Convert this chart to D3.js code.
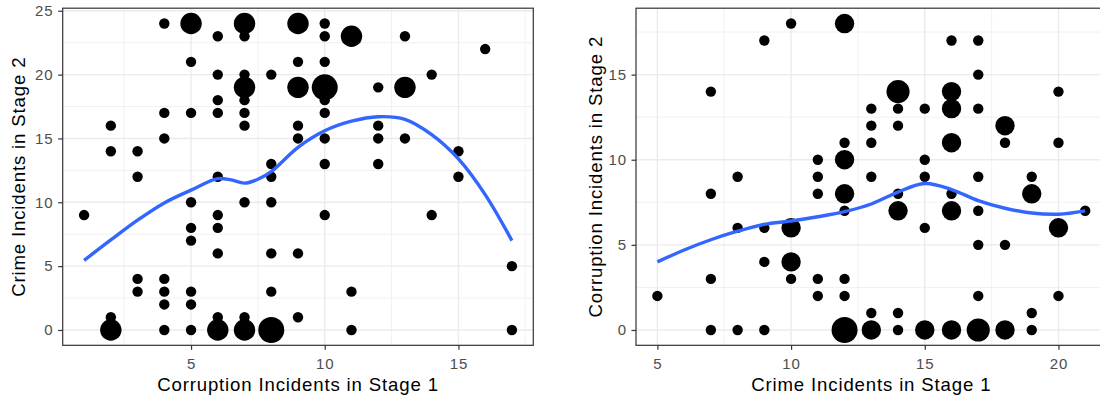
<!DOCTYPE html>
<html>
<head>
<meta charset="utf-8">
<script src="https://cdn.jsdelivr.net/npm/d3@7"></script>
<style>
  html, body { margin: 0; padding: 0; background: #ffffff; }
  svg { display: block; }
</style>
</head>
<body>
<svg id="chart" width="1100" height="396"></svg>
<script>
// ---- Panel A: corruption in stage 1 vs crime in stage 2 ----
// each entry: [x value, y value, number of observations at that spot]
const pointsA = [
  [1,9,1],
  [2,16,1],[2,14,1],[2,1,1],[2,0,2],
  [3,14,1],[3,12,1],[3,4,1],[3,3,1],
  [4,24,1],[4,17,1],[4,15,1],[4,4,1],[4,3,1],[4,2,1],[4,0,1],
  [5,24,2],[5,21,1],[5,17,1],[5,10,1],[5,8,1],[5,7,1],[5,3,1],[5,2,1],[5,0,1],
  [6,23,1],[6,20,1],[6,18,1],[6,17,1],[6,12,1],[6,9,1],[6,8,1],[6,6,1],[6,1,1],[6,0,2],
  [7,24,2],[7,23,1],[7,20,1],[7,19,2],[7,18,1],[7,17,1],[7,16,1],[7,10,1],[7,1,1],[7,0,2],
  [8,20,1],[8,13,1],[8,12,1],[8,10,1],[8,6,1],[8,3,1],[8,0,3],
  [9,24,2],[9,21,1],[9,19,2],[9,16,1],[9,15,1],[9,6,1],[9,1,1],
  [10,24,1],[10,23,1],[10,21,1],[10,19,3],[10,18,1],[10,17,1],[10,15,1],[10,13,1],[10,9,1],
  [11,23,2],[11,3,1],[11,0,1],
  [12,19,1],[12,16,1],[12,15,1],[12,13,1],
  [13,23,1],[13,19,2],[13,15,1],
  [14,20,1],[14,9,1],
  [15,14,1],[15,12,1],
  [16,22,1],
  [17,5,1],[17,0,1]
];
const smoothAX = [1, 2, 3, 4, 5, 6, 6.5, 7, 7.5, 8, 9, 10, 11, 12, 13, 14, 15, 16, 17];
const smoothAY = [5.45, 7.05, 8.6, 9.95, 10.95, 11.85, 11.75, 11.5, 11.8, 12.4, 14.3, 15.6, 16.35, 16.7, 16.5, 15.3, 13.4, 10.6, 7.0];
const ticksAX = [5, 10, 15];
const ticksAY = [0, 5, 10, 15, 20, 25];
const titleAX = "Corruption Incidents in Stage 1";
const titleAY = "Crime Incidents in Stage 2";

// ---- Panel B: crime in stage 1 vs corruption in stage 2 ----
const pointsB = [
  [5,2,1],
  [7,14,1],[7,8,1],[7,3,1],[7,0,1],
  [8,9,1],[8,6,1],[8,0,1],
  [9,17,1],[9,6,1],[9,4,1],[9,0,1],
  [10,18,1],[10,6,2],[10,4,2],[10,3,1],
  [11,10,1],[11,9,1],[11,8,1],[11,3,1],[11,2,1],
  [12,18,2],[12,11,1],[12,10,2],[12,8,2],[12,7,1],[12,3,1],[12,2,1],[12,0,4],
  [13,13,1],[13,12,1],[13,11,1],[13,9,1],[13,1,1],[13,0,2],
  [14,14,3],[14,13,1],[14,12,1],[14,8,1],[14,7,2],[14,1,1],[14,0,1],
  [15,13,1],[15,10,1],[15,9,1],[15,6,1],[15,0,2],
  [16,17,1],[16,14,2],[16,13,2],[16,11,2],[16,8,1],[16,7,2],[16,0,2],
  [17,17,1],[17,15,1],[17,13,1],[17,9,1],[17,7,1],[17,5,1],[17,2,1],[17,0,3],
  [18,12,2],[18,11,1],[18,5,1],[18,0,2],
  [19,9,1],[19,8,2],[19,1,1],[19,0,1],
  [20,14,1],[20,11,1],[20,6,2],[20,2,1],
  [21,7,1]
];
const smoothBX = [5, 6, 7, 8, 9, 10, 11, 12, 13, 14, 15, 16, 17, 18, 19, 20, 21];
const smoothBY = [4.0, 4.7, 5.3, 5.8, 6.2, 6.4, 6.65, 6.95, 7.4, 8.1, 8.6, 8.25, 7.6, 7.15, 6.87, 6.8, 7.0];
const ticksBX = [5, 10, 15, 20];
const ticksBY = [0, 5, 10, 15];
const titleBX = "Crime Incidents in Stage 1";
const titleBY = "Corruption Incidents in Stage 2";

// ---- drawing ----
const svg = d3.select("#chart");
const FONT = "'Liberation Sans', Arial, Helvetica, sans-serif";
const INK = "#333333";

// 5% padding on each side of the data range
function expand(ext) {
  const pad = (ext[1] - ext[0]) * 0.05;
  return [ext[0] - pad, ext[1] + pad];
}
// midpoints between major breaks (extended one step each way), kept inside the domain
function minorBreaks(ticks, domain) {
  const step = ticks[1] - ticks[0];
  const ext = [ticks[0] - step, ...ticks, ticks[ticks.length - 1] + step];
  const out = [];
  for (let i = 0; i < ext.length - 1; i++) {
    const m = (ext[i] + ext[i + 1]) / 2;
    if (m >= domain[0] && m <= domain[1]) out.push(m);
  }
  return out;
}

function drawPanel(cfg) {
  const box = cfg.box;
  const x = d3.scaleLinear()
    .domain(expand(d3.extent(cfg.points, d => d[0])))
    .range([box.left, box.right]);
  const y = d3.scaleLinear()
    .domain(expand(d3.extent(cfg.points, d => d[1])))
    .range([box.bottom, box.top]);
  const nMax = d3.max(cfg.points, d => d[2]);
  const share = d3.scaleLinear().domain([1, nMax]).range([0, 1]);
  const radius = d3.scaleSqrt().domain([0, 1]).range([5.2, 13]);

  const g = svg.append("g");

  // panel background
  g.append("rect")
    .attr("x", box.left).attr("y", box.top)
    .attr("width", box.right - box.left).attr("height", box.bottom - box.top)
    .attr("fill", "#ffffff");

  const grid = g.append("g").attr("stroke", "#EBEBEB").attr("fill", "none");
  // minor grid
  grid.selectAll("line.mx").data(minorBreaks(cfg.xTicks, x.domain())).join("line")
    .attr("class", "mx")
    .attr("x1", d => x(d)).attr("x2", d => x(d))
    .attr("y1", box.top).attr("y2", box.bottom)
    .attr("stroke-width", 0.7);
  grid.selectAll("line.my").data(minorBreaks(cfg.yTicks, y.domain())).join("line")
    .attr("class", "my")
    .attr("y1", d => y(d)).attr("y2", d => y(d))
    .attr("x1", box.left).attr("x2", box.right)
    .attr("stroke-width", 0.7);
  // major grid
  grid.selectAll("line.Mx").data(cfg.xTicks).join("line")
    .attr("class", "Mx")
    .attr("x1", d => x(d)).attr("x2", d => x(d))
    .attr("y1", box.top).attr("y2", box.bottom)
    .attr("stroke-width", 1.4);
  grid.selectAll("line.My").data(cfg.yTicks).join("line")
    .attr("class", "My")
    .attr("y1", d => y(d)).attr("y2", d => y(d))
    .attr("x1", box.left).attr("x2", box.right)
    .attr("stroke-width", 1.4);

  // counted points
  g.append("g").selectAll("circle").data(cfg.points).join("circle")
    .attr("cx", d => x(d[0]))
    .attr("cy", d => y(d[1]))
    .attr("r", d => radius(share(d[2])))
    .attr("fill", "#000000");

  // smoothed trend
  const line = d3.line()
    .x(i => x(cfg.smoothX[i]))
    .y(i => y(cfg.smoothY[i]))
    .curve(d3.curveCatmullRom.alpha(0.5));
  g.append("path")
    .attr("d", line(d3.range(cfg.smoothX.length)))
    .attr("fill", "none")
    .attr("stroke", "#3366FF")
    .attr("stroke-width", 3.4)
    .attr("stroke-linecap", "butt");

  // panel border
  g.append("rect")
    .attr("x", box.left).attr("y", box.top)
    .attr("width", box.right - box.left).attr("height", box.bottom - box.top)
    .attr("fill", "none").attr("stroke", INK).attr("stroke-width", 1.2);

  // axes
  const xAxis = g.append("g")
    .attr("transform", `translate(0,${box.bottom})`)
    .call(d3.axisBottom(x).tickValues(cfg.xTicks).tickSize(4.5).tickPadding(8.3).tickSizeOuter(0));
  const yAxis = g.append("g")
    .attr("transform", `translate(${box.left},0)`)
    .call(d3.axisLeft(y).tickValues(cfg.yTicks).tickSize(4.5).tickPadding(4.6).tickSizeOuter(0));
  [xAxis, yAxis].forEach(a => {
    a.select(".domain").remove();
    a.selectAll(".tick line").attr("stroke", INK).attr("stroke-width", 1.2);
    a.selectAll(".tick text")
      .attr("fill", "#4D4D4D")
      .style("font-family", FONT)
      .style("font-size", "15px")
      .style("letter-spacing", "0.9px");
  });

  // axis titles
  g.append("text")
    .attr("x", (box.left + box.right) / 2)
    .attr("y", 390.5)
    .attr("text-anchor", "middle")
    .style("font-family", FONT).style("font-size", "18.6px").style("letter-spacing", "0.85px")
    .attr("fill", "#000000")
    .text(cfg.xTitle);
  g.append("text")
    .attr("transform", `translate(${cfg.yTitleX},${(box.top + box.bottom) / 2}) rotate(-90)`)
    .attr("text-anchor", "middle")
    .style("font-family", FONT).style("font-size", "18.6px").style("letter-spacing", "0.85px")
    .attr("fill", "#000000")
    .text(cfg.yTitle);
}

drawPanel({
  points: pointsA, smoothX: smoothAX, smoothY: smoothAY,
  xTicks: ticksAX, yTicks: ticksAY, xTitle: titleAX, yTitle: titleAY,
  box: { left: 62.7, right: 533.3, top: 8.2, bottom: 345.3 },
  yTitleX: 24.5
});
drawPanel({
  points: pointsB, smoothX: smoothBX, smoothY: smoothBY,
  xTicks: ticksBX, yTicks: ticksBY, xTitle: titleBX, yTitle: titleBY,
  box: { left: 636, right: 1106.6, top: 8.2, bottom: 345.3 },
  yTitleX: 602
});
</script>
</body>
</html>
